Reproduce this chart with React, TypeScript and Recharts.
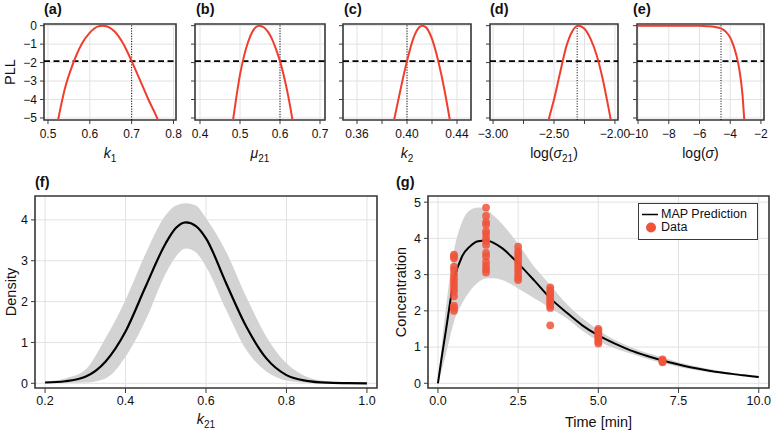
import React from 'react';
import {
  LineChart,
  ComposedChart,
  Line,
  Area,
  Scatter,
  XAxis,
  YAxis,
  CartesianGrid,
  ReferenceLine,
  ReferenceArea,
  Legend,
} from 'recharts';

const FONT = '"Liberation Sans", Arial, Helvetica, sans-serif';
const INK = '#111111';
const FRAME = '#3a3a3a';
const GRID = '#e2e2e2';
const RED = '#f03e2e';
const DOT = '#f0533a';
const BAND = '#d3d3d3';

// profile log-likelihood curves, panels (a)-(e)
const k1Grid = [0.52, 0.54, 0.56, 0.58, 0.6, 0.62, 0.63, 0.64, 0.66, 0.68, 0.7, 0.72, 0.74, 0.76, 0.77];
const k1Pll = [-5.6, -3.45, -2.05, -1.02, -0.38, -0.04, 0, -0.03, -0.33, -0.98, -1.92, -2.95, -4.0, -4.95, -5.5];

const mu21Grid = [0.478, 0.49, 0.5, 0.51, 0.52, 0.53, 0.54, 0.548, 0.56, 0.57, 0.58, 0.59, 0.6, 0.61, 0.62, 0.63, 0.635];
const mu21Pll = [-5.8, -4.0, -2.65, -1.65, -0.9, -0.37, -0.07, 0, -0.1, -0.34, -0.73, -1.27, -1.92, -2.75, -3.75, -4.95, -5.6];

const k2Grid = [0.386, 0.39, 0.395, 0.4, 0.405, 0.41, 0.412, 0.415, 0.42, 0.425, 0.43, 0.434, 0.437];
const k2Pll = [-6.2, -5.0, -3.4, -1.92, -0.7, -0.07, 0, -0.08, -0.72, -1.92, -3.5, -5.0, -6.2];

const logSig21Grid = [-2.57, -2.54, -2.5, -2.45, -2.4, -2.35, -2.3, -2.25, -2.2, -2.15, -2.1, -2.05, -2.02];
const logSig21Pll = [-5.9, -5.0, -4.0, -2.55, -1.15, -0.3, 0, -0.17, -0.72, -1.6, -2.9, -4.55, -5.6];

const logSigGrid = [-10, -9, -8, -7, -6, -5.5, -5, -4.6, -4.3, -4.0, -3.8, -3.6, -3.4, -3.2, -3.1, -3.0];
const logSigPll = [0, 0, 0, 0, -0.01, -0.03, -0.07, -0.15, -0.32, -0.65, -1.05, -1.6, -2.4, -3.75, -4.9, -6.0];

const pllTicks = [-5, -4, -3, -2, -1, 0];
const PLL_CUTOFF = -1.92;

// (f) posterior density of k21
const k21Grid = [0.2, 0.25, 0.3, 0.35, 0.4, 0.45, 0.5, 0.525, 0.55, 0.575, 0.6, 0.65, 0.7, 0.75, 0.8, 0.85, 0.9, 0.95, 1.0];
const k21Mean = [0.02, 0.05, 0.16, 0.53, 1.27, 2.37, 3.43, 3.8, 3.94, 3.85, 3.55, 2.45, 1.39, 0.61, 0.2, 0.06, 0.015, 0.005, 0];
const k21Upper = [0.05, 0.12, 0.33, 1.1, 2.04, 3.18, 4.12, 4.35, 4.41, 4.35, 4.04, 3.22, 2.12, 1.14, 0.49, 0.16, 0.05, 0.015, 0.005];
const k21Lower = [0, 0.01, 0.02, 0.12, 0.65, 1.55, 2.69, 3.1, 3.3, 3.2, 2.86, 1.8, 0.82, 0.29, 0.07, 0.015, 0.003, 0, 0];

// (g) concentration vs time
const timeGrid = [0, 0.1, 0.25, 0.5, 0.75, 1, 1.25, 1.5, 1.75, 2, 2.5, 3, 3.5, 4, 4.5, 5, 5.5, 6, 6.5, 7, 7.5, 8, 8.5, 9, 9.5, 10];
const mapPred = [0, 0.62, 1.47, 2.85, 3.5, 3.78, 3.92, 3.94, 3.87, 3.73, 3.31, 2.84, 2.35, 1.96, 1.6, 1.32, 1.1, 0.91, 0.76, 0.63, 0.52, 0.42, 0.34, 0.28, 0.22, 0.17];
const predUpper = [0, 0.9, 2.1, 3.65, 4.45, 4.78, 4.85, 4.8, 4.62, 4.4, 3.85, 3.22, 2.72, 2.2, 1.8, 1.47, 1.2, 1.0, 0.84, 0.72, 0.58, 0.48, 0.39, 0.31, 0.25, 0.2];
const predLower = [0, 0.3, 0.8, 1.7, 2.2, 2.55, 2.78, 2.9, 2.9, 2.85, 2.62, 2.35, 2.08, 1.8, 1.45, 1.17, 0.97, 0.82, 0.68, 0.56, 0.45, 0.37, 0.3, 0.25, 0.2, 0.16];

const obsTimes = [0.5, 1.5, 2.5, 3.5, 5, 7];
const obsAt05 = [3.55, 3.5, 3.45, 3.22, 3.13, 3.0, 2.9, 2.82, 2.72, 2.62, 2.53, 2.4, 2.14, 2.08, 2.0];
const obsAt15 = [4.85, 4.62, 4.45, 4.38, 4.2, 4.12, 4.0, 3.92, 3.82, 3.6, 3.5, 3.35, 3.24, 3.15, 3.06];
const obsAt25 = [3.77, 3.64, 3.55, 3.46, 3.37, 3.28, 3.19, 3.1, 3.0, 2.92, 2.85];
const obsAt35 = [2.65, 2.58, 2.5, 2.44, 2.38, 2.32, 2.26, 2.2, 2.14, 2.08, 1.6];
const obsAt50 = [1.5, 1.45, 1.4, 1.35, 1.3, 1.25, 1.2, 1.15, 1.1];
const obsAt70 = [0.66, 0.63, 0.6, 0.58];
const obsValues = [obsAt05, obsAt15, obsAt25, obsAt35, obsAt50, obsAt70];

const minus = (v: number, digits: number) => (v < 0 ? '\u2212' : '') + Math.abs(v).toFixed(digits);
const near = (list: number[]) => (v: number) => list.some((l) => Math.abs(l - v) < 1e-6);
const always = () => true;

const sub = (s: string) => (
  <tspan fontSize={10} dy={4}>{s}</tspan>
);

const profilePanels = [
  {
    tag: '(a)', left: 44, right: 176, xs: k1Grid, ys: k1Pll, domain: [0.4905, 0.806], ticks: [0.5, 0.6, 0.7, 0.8],
    show: always, fmt: (v: number) => v.toFixed(1), mle: 0.7, yLabels: true,
    title: <><tspan fontStyle="italic">k</tspan>{sub('1')}</>,
  },
  {
    tag: '(b)', left: 195, right: 325, xs: mu21Grid, ys: mu21Pll, domain: [0.3875, 0.7125], ticks: [0.4, 0.5, 0.6, 0.7],
    show: always, fmt: (v: number) => v.toFixed(1), mle: 0.6, yLabels: false,
    title: <><tspan fontStyle="italic">μ</tspan>{sub('21')}</>,
  },
  {
    tag: '(c)', left: 343, right: 471, xs: k2Grid, ys: k2Pll, domain: [0.3488, 0.4512], ticks: [0.36, 0.38, 0.4, 0.42, 0.44],
    show: near([0.36, 0.4, 0.44]), fmt: (v: number) => v.toFixed(2), mle: 0.4, yLabels: false,
    title: <><tspan fontStyle="italic">k</tspan>{sub('2')}</>,
  },
  {
    tag: '(d)', left: 490, right: 618, xs: logSig21Grid, ys: logSig21Pll, domain: [-3.025, -1.975], ticks: [-3, -2.75, -2.5, -2.25, -2],
    show: near([-3, -2.5, -2]), fmt: (v: number) => minus(v, 2), mle: -2.31, yLabels: false,
    title: <><tspan>log(</tspan><tspan fontStyle="italic">σ</tspan>{sub('21')}<tspan dy={-4}>)</tspan></>,
  },
  {
    tag: '(e)', left: 637, right: 764, xs: logSigGrid, ys: logSigPll, domain: [-10.07, -1.8], ticks: [-10, -8, -6, -4, -2],
    show: always, fmt: (v: number) => minus(v, 0), mle: -4.6, yLabels: false,
    title: <><tspan>log(</tspan><tspan fontStyle="italic">σ</tspan><tspan>)</tspan></>,
  },
];

const XTick = ({ x, y, payload, fmt, show, size }: any) =>
  show(payload.value) ? (
    <text x={x} y={y} dy="0.71em" textAnchor="middle" fontSize={size} fontFamily={FONT} fill={INK}>
      {fmt(payload.value)}
    </text>
  ) : (
    <g />
  );

const YTick = ({ x, y, payload, show, size }: any) =>
  show ? (
    <text x={x} y={y} dy="0.35em" textAnchor="end" fontSize={size} fontFamily={FONT} fill={INK}>
      {minus(payload.value, 0)}
    </text>
  ) : (
    <g />
  );

const BottomTitle = ({ viewBox, dy, size, children }: any) => (
  <text x={viewBox.x + viewBox.width / 2} y={viewBox.y + dy} textAnchor="middle" fontSize={size} fontFamily={FONT} fill={INK}>
    {children}
  </text>
);

const SideTitle = ({ viewBox, cx, size, children }: any) => {
  const cy = viewBox.y + viewBox.height / 2;
  const x = viewBox.x + cx;
  return (
    <text x={x} y={cy} transform={`rotate(-90, ${x}, ${cy})`} textAnchor="middle" dominantBaseline="central" fontSize={size} fontFamily={FONT} fill={INK}>
      {children}
    </text>
  );
};

const PLL_DOMAIN = [-5.11, 0.09];

function ProfilePanel({ p }: any) {
  const rows = p.xs.map((x: number, i: number) => ({ x, pll: p.ys[i] }));
  const width = p.right - p.left + 44 + 20;
  return (
    <div style={{ position: 'absolute', left: p.left - 44, top: 0 }}>
      <LineChart width={width} height={170} data={rows} margin={{ top: 24, right: 20, bottom: 0, left: 0 }}>
        <CartesianGrid stroke={GRID} strokeWidth={1} />
        <XAxis
          dataKey="x"
          type="number"
          domain={p.domain}
          ticks={p.ticks}
          interval={0}
          allowDataOverflow
          axisLine={false}
          tickSize={4}
          tickMargin={5}
          tickLine={{ stroke: FRAME }}
          height={50}
          tick={(t: any) => <XTick {...t} fmt={p.fmt} show={p.show} size={12} />}
          label={{ content: (lp: any) => <BottomTitle viewBox={lp.viewBox} dy={38} size={14}>{p.title}</BottomTitle> }}
        />
        <YAxis
          type="number"
          domain={PLL_DOMAIN}
          ticks={pllTicks}
          interval={0}
          allowDataOverflow
          axisLine={false}
          width={44}
          tickSize={4}
          tickMargin={3}
          tickLine={{ stroke: FRAME }}
          tick={(t: any) => <YTick {...t} show={p.yLabels} size={12} />}
          label={p.yLabels ? { content: (lp: any) => <SideTitle viewBox={lp.viewBox} cx={10} size={14.5}>PLL</SideTitle> } : undefined}
        />
        <ReferenceLine x={p.mle} stroke="#000" strokeWidth={1} strokeDasharray="1 1.6" />
        <ReferenceLine y={PLL_CUTOFF} stroke="#000" strokeWidth={1.8} strokeDasharray="6 3.5" />
        <Line dataKey="pll" type="monotone" stroke={RED} strokeWidth={2} dot={false} activeDot={false} isAnimationActive={false} />
        <ReferenceArea x1={p.domain[0]} x2={p.domain[1]} y1={PLL_DOMAIN[0]} y2={PLL_DOMAIN[1]} fill="none" stroke={FRAME} strokeWidth={1.6} ifOverflow="visible" />
      </LineChart>
    </div>
  );
}

const F_X = [0.175, 1.025];
const F_Y = [-0.115, 4.585];

function DensityPanel() {
  const rows = k21Grid.map((k, i) => ({ k, mean: k21Mean[i], band: [k21Lower[i], k21Upper[i]] }));
  return (
    <div style={{ position: 'absolute', left: 0, top: 170 }}>
      <ComposedChart width={385} height={262} data={rows} margin={{ top: 26, right: 8, bottom: 0, left: 0 }}>
        <CartesianGrid stroke={GRID} strokeWidth={1} />
        <XAxis
          dataKey="k"
          type="number"
          domain={F_X}
          ticks={[0.2, 0.4, 0.6, 0.8, 1.0]}
          interval={0}
          allowDataOverflow
          axisLine={false}
          tickSize={5}
          tickMargin={3}
          tickLine={{ stroke: FRAME }}
          height={44}
          tick={(t: any) => <XTick {...t} fmt={(v: number) => v.toFixed(1)} show={always} size={12.5} />}
          label={{
            content: (lp: any) => (
              <BottomTitle viewBox={lp.viewBox} dy={36} size={14.5}>
                <tspan fontStyle="italic">k</tspan>
                {sub('21')}
              </BottomTitle>
            ),
          }}
        />
        <YAxis
          type="number"
          domain={F_Y}
          ticks={[0, 1, 2, 3, 4]}
          interval={0}
          allowDataOverflow
          axisLine={false}
          width={35}
          tickSize={4}
          tickMargin={3}
          tickLine={{ stroke: FRAME }}
          tick={(t: any) => <YTick {...t} show size={12.5} />}
          label={{ content: (lp: any) => <SideTitle viewBox={lp.viewBox} cx={11} size={14.5}>Density</SideTitle> }}
        />
        <Area dataKey="band" type="monotone" fill={BAND} fillOpacity={1} stroke="none" isAnimationActive={false} />
        <Line dataKey="mean" type="monotone" stroke="#000" strokeWidth={2.2} dot={false} activeDot={false} isAnimationActive={false} />
        <ReferenceArea x1={F_X[0]} x2={F_X[1]} y1={F_Y[0]} y2={F_Y[1]} fill="none" stroke={FRAME} strokeWidth={1.6} ifOverflow="visible" />
      </ComposedChart>
    </div>
  );
}

const G_X = [-0.31, 10.32];
const G_Y = [-0.13, 5.17];

const legendRow: React.CSSProperties = { display: 'flex', alignItems: 'center', height: 13, lineHeight: '13px' };

const PredLegend = () => (
  <div
    style={{
      boxSizing: 'border-box',
      width: 120,
      height: 37,
      border: `1.5px solid ${FRAME}`,
      background: '#fff',
      paddingTop: 4,
      fontFamily: FONT,
      fontSize: 12.5,
      color: INK,
    }}
  >
    <div style={legendRow}>
      <svg width={22} height={13}>
        <line x1={3} x2={19} y1={6.5} y2={6.5} stroke="#000" strokeWidth={1.5} />
      </svg>
      <span>MAP Prediction</span>
    </div>
    <div style={legendRow}>
      <svg width={22} height={13}>
        <circle cx={12} cy={6.5} r={5} fill={DOT} />
      </svg>
      <span>Data</span>
    </div>
  </div>
);

function PredictionPanel() {
  const rows = timeGrid.map((t, i) => ({ t, map: mapPred[i], band: [predLower[i], predUpper[i]] }));
  const obs = obsTimes.flatMap((t, i) => obsValues[i].map((c) => ({ t, c })));
  return (
    <div style={{ position: 'absolute', left: 385, top: 170 }}>
      <ComposedChart width={389} height={262} data={rows} margin={{ top: 26, right: 5, bottom: 0, left: 0 }}>
        <CartesianGrid stroke={GRID} strokeWidth={1} />
        <XAxis
          dataKey="t"
          type="number"
          domain={G_X}
          ticks={[0, 2.5, 5, 7.5, 10]}
          interval={0}
          allowDataOverflow
          axisLine={false}
          tickSize={5}
          tickMargin={3}
          tickLine={{ stroke: FRAME }}
          height={44}
          tick={(t: any) => <XTick {...t} fmt={(v: number) => v.toFixed(1)} show={always} size={12.5} />}
          label={{ content: (lp: any) => <BottomTitle viewBox={lp.viewBox} dy={39} size={14.5}>Time [min]</BottomTitle> }}
        />
        <YAxis
          dataKey="c"
          type="number"
          domain={G_Y}
          ticks={[0, 1, 2, 3, 4, 5]}
          interval={0}
          allowDataOverflow
          axisLine={false}
          width={43}
          tickSize={4}
          tickMargin={3}
          tickLine={{ stroke: FRAME }}
          tick={(t: any) => <YTick {...t} show size={12.5} />}
          label={{ content: (lp: any) => <SideTitle viewBox={lp.viewBox} cx={16} size={14.5}>Concentration</SideTitle> }}
        />
        <Area dataKey="band" type="monotone" fill={BAND} fillOpacity={1} stroke="none" isAnimationActive={false} />
        <Line dataKey="map" type="monotone" stroke="#000" strokeWidth={2} dot={false} activeDot={false} isAnimationActive={false} />
        <Scatter
          data={obs}
          dataKey="c"
          isAnimationActive={false}
          shape={(s: any) => <circle cx={s.cx} cy={s.cy} r={3.9} fill={DOT} fillOpacity={0.85} />}
        />
        <ReferenceArea x1={G_X[0]} x2={G_X[1]} y1={G_Y[0]} y2={G_Y[1]} fill="none" stroke={FRAME} strokeWidth={1.6} ifOverflow="visible" />
        <Legend
          layout="vertical"
          align="center"
          verticalAlign="middle"
          content={() => <PredLegend />}
          wrapperStyle={{ left: 253, top: 33, width: 120, height: 37 }}
        />
      </ComposedChart>
    </div>
  );
}

const panelTags = [
  { tag: '(a)', x: 44, y: 14 },
  { tag: '(b)', x: 196, y: 14 },
  { tag: '(c)', x: 344, y: 14 },
  { tag: '(d)', x: 490, y: 14 },
  { tag: '(e)', x: 633, y: 14 },
  { tag: '(f)', x: 35, y: 187 },
  { tag: '(g)', x: 396, y: 187 },
];

export default function App() {
  return (
    <div style={{ position: 'absolute', left: 0, top: 0, width: 774, height: 432, background: '#fff', overflow: 'hidden' }}>
      {profilePanels.map((p) => (
        <ProfilePanel key={p.tag} p={p} />
      ))}
      <DensityPanel />
      <PredictionPanel />
      <svg width={774} height={432} style={{ position: 'absolute', left: 0, top: 0, pointerEvents: 'none' }}>
        {panelTags.map((t) => (
          <text key={t.tag} x={t.x} y={t.y} fontFamily={FONT} fontWeight="bold" fontSize={14.5} fill={INK}>
            {t.tag}
          </text>
        ))}
      </svg>
    </div>
  );
}
